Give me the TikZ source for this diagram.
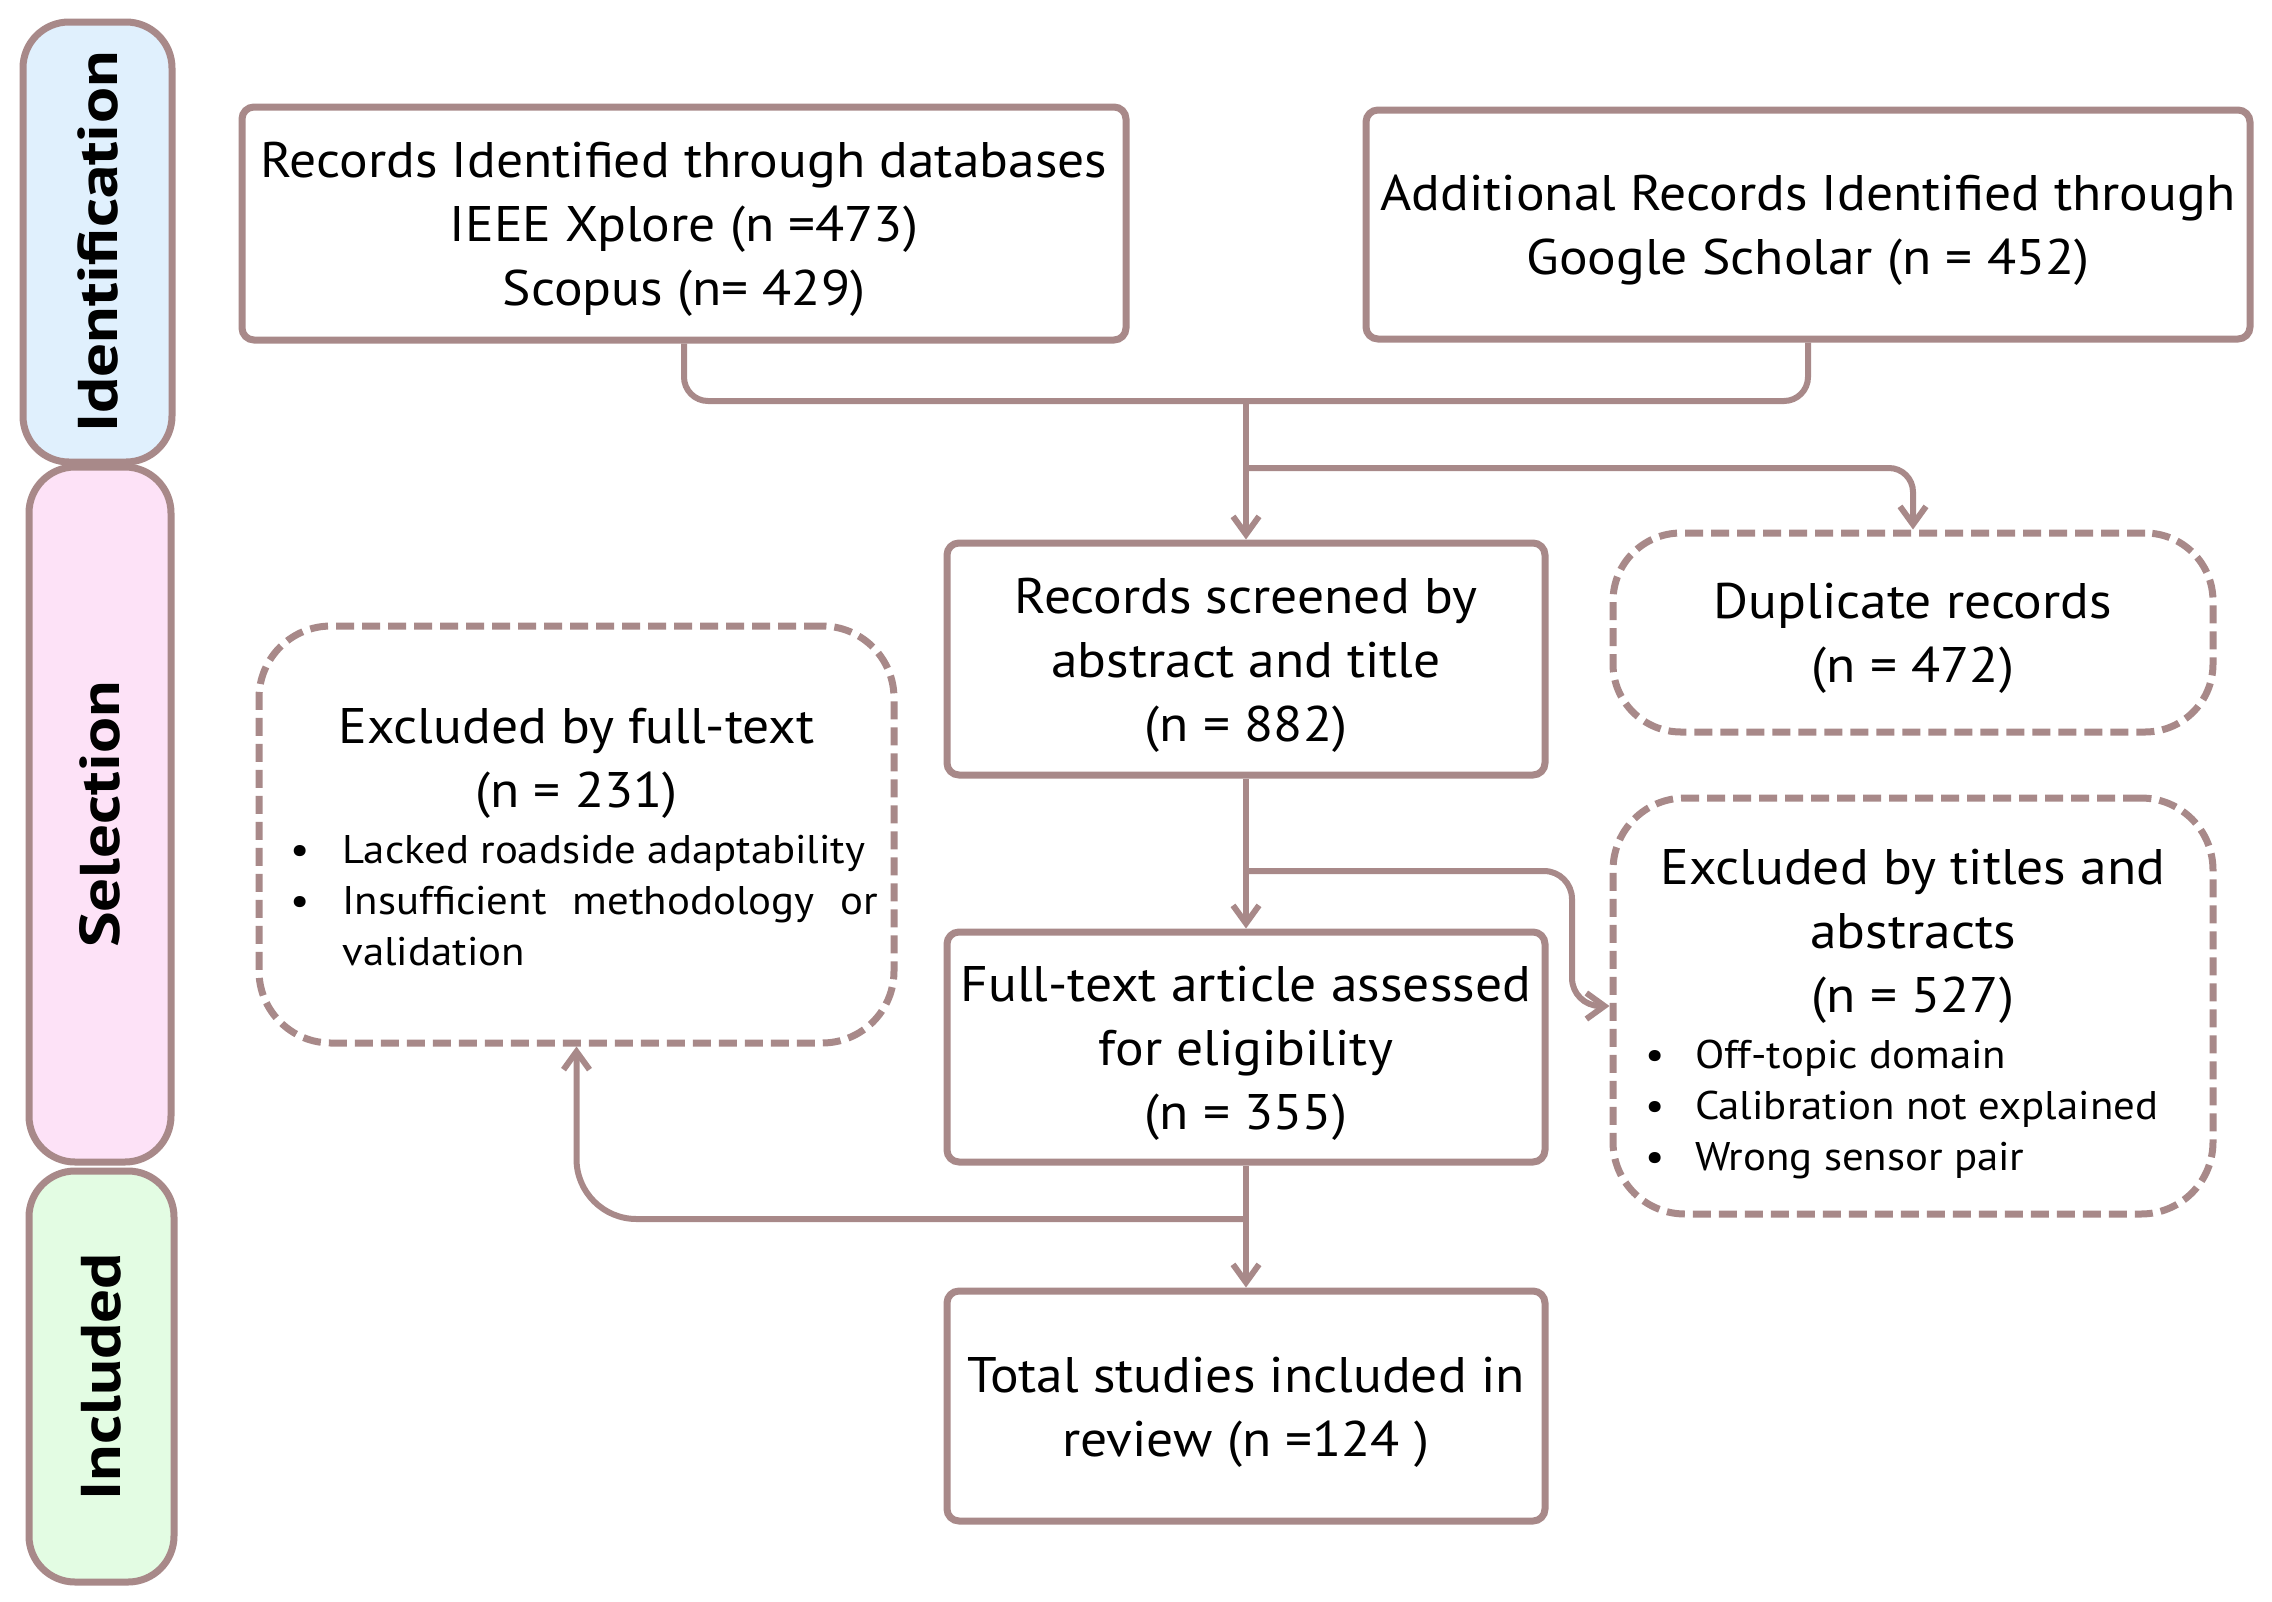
\documentclass[tikz,border=0pt]{standalone}
\usepackage{fontspec}
\usepackage{graphicx}
\setmainfont{PT Sans}[FakeStretch=1.07]
\newfontfamily\labelfont{PT Sans}[FakeStretch=1.2]
\usetikzlibrary{arrows.meta}
\definecolor{edge}{RGB}{168,137,137}
\definecolor{idfill}{RGB}{224,240,253}
\definecolor{selfill}{RGB}{253,226,247}
\definecolor{incfill}{RGB}{227,252,227}
\tikzset{
  solidbox/.style={draw=edge, line width=3.5pt, rounded corners=6pt, fill=white, align=center, inner sep=0pt, font=\fontsize{25}{32}\selectfont},
  dashbox/.style={draw=edge, line width=3.5pt, dash pattern=on 9pt off 4pt, rounded corners=36pt, fill=white, align=center, inner sep=0pt, font=\fontsize{25}{32}\selectfont},
  phase/.style={draw=edge, line width=3.5pt, rounded corners=23pt, inner sep=0pt, font=\labelfont\fontsize{28}{32}\selectfont\bfseries},
  conn/.style={draw=edge, line width=3pt},
  arr/.style={conn, -{Straight Barb[length=9pt,width=13pt]}},
}
\newcommand{\bul}[1]{\makebox[#1][l]{\textbullet}}
\newcommand{\lift}{\rule{0pt}{23.5pt}}
\begin{document}
\begin{tikzpicture}[x=0.5pt,y=-0.5pt]
\path[use as bounding box, fill=white] (0,0) rectangle (2272,1602);

% phase bars
\node[phase, fill=idfill, minimum width=74.5pt, minimum height=220pt] (ident) at (97.5,242) {\rotatebox{90}{Identification}};
\node[phase, fill=selfill, minimum width=71pt, minimum height=347.5pt] (sel) at (100,814.5) {\rotatebox{90}{Selection}};
\node[phase, fill=incfill, minimum width=72.5pt, minimum height=205.5pt] (incl) at (101.5,1376.5) {\rotatebox{90}{Included}};

% main boxes
\node[solidbox, minimum width=442pt, minimum height=116.5pt] (db) at (684,223.5)
  {\lift Records Identified through databases\\IEEE Xplore (n =473)\\Scopus (n= 429)};
\node[solidbox, minimum width=442pt, minimum height=114.5pt] (gs) at (1808,224.5)
  {\lift Additional Records Identified through\\Google Scholar (n = 452)};
\node[solidbox, minimum width=299pt, minimum height=116pt] (scr) at (1246,659)
  {\lift Records screened by\\abstract and title\\(n = 882)};
\node[dashbox, rounded corners=34pt, minimum width=300pt, minimum height=99.5pt] (dup) at (1913,632.5)
  {\lift Duplicate records\\(n = 472)};
\node[solidbox, minimum width=299pt, minimum height=115pt] (elig) at (1246,1047)
  {\lift Full-text article assessed\\for eligibility\\(n = 355)};
\node[solidbox, minimum width=299pt, minimum height=115pt] (final) at (1246,1406)
  {\lift Total studies included in\\review (n =124 )};

\node[dashbox, minimum width=317.5pt, minimum height=208.5pt] (exft) at (576.5,834.5)
  {\begin{minipage}{302pt}\vspace*{3pt}\centering Excluded by full-text\\(n = 231)\par
   \vspace{2.5pt}
   {\fontsize{20}{25.5}\selectfont\raggedright
   \hspace*{8pt}\bul{26pt}Lacked roadside adaptability\\
   \hspace*{8pt}\bul{26pt}\makebox[268pt][s]{Insufficient methodology or}\\
   \hspace*{34pt}validation\par}
   \end{minipage}};

\node[dashbox, minimum width=300pt, minimum height=208pt] (exta) at (1913,1006)
  {\begin{minipage}{280pt}\vspace*{8pt}\centering Excluded by titles and\\abstracts\\(n = 527)\par
   \vspace{2.5pt}
   {\fontsize{20}{25.5}\selectfont\raggedright
   \hspace*{6pt}\bul{25pt}Off-topic domain\\
   \hspace*{6pt}\bul{25pt}Calibration not explained\\
   \hspace*{6pt}\bul{25pt}Wrong sensor pair\par}
   \end{minipage}};

% connectors
\coordinate (j1) at (1246,401);
\coordinate (j2) at (1246,468);
\coordinate (j3) at (1246,871);
\coordinate (k3) at (1572,871);
\coordinate (j4) at (1246,1219);

\draw[conn, rounded corners=12pt] (db.south) |- (j1) -| (gs.south);
\draw[arr] (j1) -- (scr.north);
\draw[arr, rounded corners=12pt] (j2) -| (dup.north);
\draw[arr] (scr.south) -- (elig.north);
\draw[arr, rounded corners=14pt] (j3) -- (k3) |- (exta.west);
\draw[arr] (elig.south) -- (final.north);
\draw[arr, rounded corners=30pt] (j4) -| (exft.south);
\end{tikzpicture}
\end{document}
